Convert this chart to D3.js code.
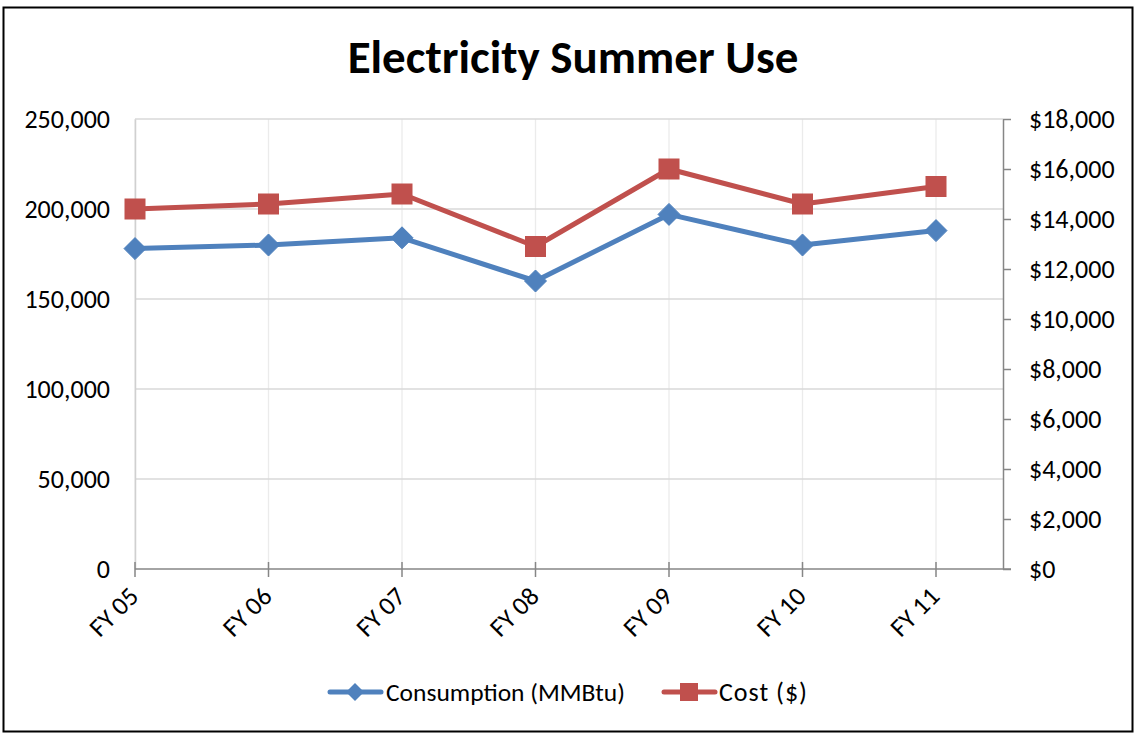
<!DOCTYPE html>
<html>
<head>
<meta charset="utf-8">
<script src="https://cdn.jsdelivr.net/npm/d3@7"></script>
<style>
  html, body { margin: 0; padding: 0; background: #fff; }
  svg { display: block; }
  text { font-family: Calibri, Carlito, Lato, "Open Sans", sans-serif; fill: #000; }
</style>
</head>
<body>
<svg id="chart" width="1136" height="734"></svg>
<script>
const categories = ["FY 05", "FY 06", "FY 07", "FY 08", "FY 09", "FY 10", "FY 11"];
const consumption = [178000, 180000, 184000, 160000, 197000, 180000, 188000];
const cost = [14400, 14600, 15000, 12900, 16000, 14600, 15300];
const leftTicks = [0, 50000, 100000, 150000, 200000, 250000];
const rightTicks = [0, 2000, 4000, 6000, 8000, 10000, 12000, 14000, 16000, 18000];
const title = "Electricity Summer Use";
const seriesNames = ["Consumption (MMBtu)", "Cost ($)"];

const blue = "#4F81BD", red = "#C0504D";
const fs = "26px";
const svg = d3.select("#chart");
svg.append("rect").attr("width", 1136).attr("height", 734).attr("fill", "#fff");
svg.append("rect").attr("x", 3.5).attr("y", 7.5).attr("width", 1129).attr("height", 724)
  .attr("fill", "none").attr("stroke", "#000").attr("stroke-width", 2);

const plotL = 135, plotR = 1003, plotT = 119, plotB = 569;
const x = d3.scalePoint().domain(categories).range([plotL, 936]);
const yL = d3.scaleLinear().domain([0, 250000]).range([plotB, plotT]);
const yR = d3.scaleLinear().domain([0, 18000]).range([plotB, plotT]);

// title
svg.append("text").attr("x", 573).attr("y", 73).attr("text-anchor", "middle")
  .style("font-size", "47px").style("font-weight", "bold").text(title);

// gridlines
svg.append("g").selectAll("line").data(categories).join("line")
  .attr("x1", d => x(d)).attr("x2", d => x(d)).attr("y1", plotT).attr("y2", plotB)
  .attr("stroke", "#ebebeb").attr("stroke-width", 1.3);
svg.append("g").selectAll("line").data(leftTicks.filter(d => d > 0)).join("line")
  .attr("x1", plotL).attr("x2", plotR).attr("y1", d => yL(d)).attr("y2", d => yL(d))
  .attr("stroke", "#d9d9d9").attr("stroke-width", 1.3);

// left axis
const gL = svg.append("g").attr("transform", `translate(${plotL},0)`)
  .call(d3.axisLeft(yL).tickValues(leftTicks).tickFormat(d3.format(",")).tickSize(0).tickPadding(25));
gL.select(".domain").attr("stroke", "#d0d0d0").attr("stroke-width", 1.5);
gL.selectAll("text").style("font-size", fs).style("font-family", "Calibri, Carlito, Lato, sans-serif").attr("fill", "#000");

// right axis
const gR = svg.append("g").attr("transform", `translate(${plotR},0)`)
  .call(d3.axisRight(yR).tickValues(rightTicks).tickFormat(d => "$" + d3.format(",")(d)).tickSize(8).tickSizeOuter(0).tickPadding(18));
gR.select(".domain").attr("stroke", "#868686").attr("stroke-width", 1.5);
gR.selectAll(".tick line").attr("stroke", "#868686").attr("stroke-width", 1.5);
gR.selectAll("text").style("font-size", fs).style("font-family", "Calibri, Carlito, Lato, sans-serif").attr("fill", "#000");

// x axis
svg.append("line").attr("x1", plotL).attr("x2", plotR + 8).attr("y1", plotB).attr("y2", plotB)
  .attr("stroke", "#868686").attr("stroke-width", 1.5);
svg.append("g").selectAll("line").data(categories).join("line")
  .attr("x1", d => x(d)).attr("x2", d => x(d)).attr("y1", plotB - 7).attr("y2", plotB + 8)
  .attr("stroke", "#868686").attr("stroke-width", 1.5);
svg.append("g").selectAll("text").data(categories).join("text")
  .attr("transform", d => `translate(${x(d) + 5},${598}) rotate(-45)`)
  .attr("text-anchor", "end").style("font-size", fs).text(d => d);

// lines
const lineL = d3.line().x((d, i) => x(categories[i])).y(d => yL(d));
const lineR = d3.line().x((d, i) => x(categories[i])).y(d => yR(d));
svg.append("path").datum(consumption).attr("d", lineL).attr("fill", "none")
  .attr("stroke", blue).attr("stroke-width", 5).attr("stroke-linejoin", "round").attr("stroke-linecap", "round");
svg.append("path").datum(cost).attr("d", lineR).attr("fill", "none")
  .attr("stroke", red).attr("stroke-width", 5).attr("stroke-linejoin", "round").attr("stroke-linecap", "round");

const diamond = s => `M0,${-s}L${s},0L0,${s}L${-s},0Z`;
svg.append("g").selectAll("path").data(consumption).join("path")
  .attr("transform", (d, i) => `translate(${x(categories[i])},${yL(d)})`)
  .attr("d", diamond(11)).attr("fill", blue).attr("stroke", blue).attr("stroke-width", 1);
svg.append("g").selectAll("rect").data(cost).join("rect")
  .attr("x", (d, i) => x(categories[i]) - 10).attr("y", d => yR(d) - 10)
  .attr("width", 20).attr("height", 20).attr("fill", red).attr("stroke", red).attr("stroke-width", 1);

// legend
const ly = 692;
const lg = svg.append("g");
lg.append("line").attr("x1", 330).attr("x2", 381).attr("y1", ly).attr("y2", ly)
  .attr("stroke", blue).attr("stroke-width", 5).attr("stroke-linecap", "round");
lg.append("path").attr("transform", `translate(355,${ly})`).attr("d", diamond(9)).attr("fill", blue);
lg.append("text").attr("x", 386).attr("y", ly + 9).style("font-size", "25.5px").text(seriesNames[0]);
lg.append("line").attr("x1", 664).attr("x2", 715).attr("y1", ly).attr("y2", ly)
  .attr("stroke", red).attr("stroke-width", 5).attr("stroke-linecap", "round");
lg.append("rect").attr("x", 680).attr("y", ly - 9).attr("width", 18).attr("height", 18).attr("fill", red);
lg.append("text").attr("x", 719).attr("y", ly + 9).style("font-size", "26px").style("letter-spacing", "1px").text(seriesNames[1]);
</script>
</body>
</html>
